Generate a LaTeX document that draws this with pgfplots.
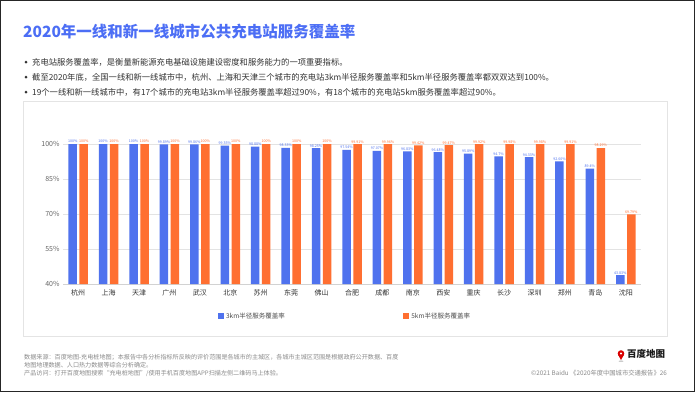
\documentclass[border=0pt]{standalone}
\usepackage{fontspec}
\setmainfont{Noto Sans CJK SC}
\usepackage{pgfplots}
\usepackage{pgfplotstable}
\pgfplotsset{compat=1.18}
\definecolor{cblue}{HTML}{4F72EE}
\definecolor{corange}{HTML}{FF6F31}
\definecolor{titleblue}{HTML}{4C6EF5}
\definecolor{txt}{HTML}{333333}
\definecolor{foot}{HTML}{8A8A8A}
\definecolor{panel}{HTML}{E4E4E4}
\pgfplotstableread{
x y3 l3 y5 l5
0 100 100 100 100
1 100 100 100 100
2 100 100 100 100
3 99.89 99.89 100 100
4 99.86 99.86 100 100
5 99.35 99.35 100 100
6 98.88 98.88 100 100
7 98.33 98.33 100 100
8 98.25 98.25 100 100
9 97.54 97.54 99.91 99.91
10 97.07 97.07 99.96 99.96
11 96.83 96.83 99.42 99.42
12 96.48 96.48 99.47 99.47
13 95.89 95.89 99.92 99.92
14 94.7 94.7 99.98 99.98
15 94.33 94.33 99.98 99.98
16 92.60 92.60 99.91 99.91
17 89.4 89.4 98.29 98.29
18 43.83 43.83 69.79 69.79
}\datatable
\begin{document}
\begin{tikzpicture}[x=1pt,y=1pt]
\useasboundingbox (0,0) rectangle (695,392);
\fill[white] (0,0) rectangle (695,392);
\draw[black!85, line width=1pt] (0.5,0.5) rectangle (694.5,391.5);
% title
\node[anchor=west, inner sep=0, text=titleblue, font=\fontsize{15.5}{18}\selectfont\bfseries] at (23,360) {2020年一线和新一线城市公共充电站服务覆盖率};
% bullets
\foreach \yy in {330,315,300} {\fill[txt] (26,\yy) circle (1.5);}
\node[anchor=west, inner sep=0, text=txt, font=\fontsize{8.3}{10}\selectfont] at (32,330) {充电站服务覆盖率，是衡量新能源充电基础设施建设密度和服务能力的一项重要指标。};
\node[anchor=west, inner sep=0, text=txt, font=\fontsize{8.3}{10}\selectfont] at (32,315) {截至2020年底，全国一线和新一线城市中，杭州、上海和天津三个城市的充电站3km半径服务覆盖率和5km半径服务覆盖率都双双达到100\%。};
\node[anchor=west, inner sep=0, text=txt, font=\fontsize{8.3}{10}\selectfont] at (32,300) {19个一线和新一线城市中，有17个城市的充电站3km半径服务覆盖率超过90\%，有18个城市的充电站5km服务覆盖率超过90\%。};
% panel
\draw[panel, line width=0.8pt] (23,56) rectangle (667,291);
\begin{axis}[
  at={(63pt,108pt)}, anchor=south west,
  scale only axis, width=578pt, height=140pt,
  xmin=-0.5, xmax=18.5, ymin=40, ymax=100,
  clip=false,
  ybar=2.5pt, bar width=8.5pt,
  axis x line*=bottom, axis y line*=left,
  x axis line style={draw=gray!35, line width=0.8pt},
  y axis line style={draw=none},
  major tick length=0pt,
  xtick={0,...,18},
  xticklabels={杭州,上海,天津,广州,武汉,北京,苏州,东莞,佛山,合肥,成都,南京,西安,重庆,长沙,深圳,郑州,青岛,沈阳},
  xticklabel style={font=\fontsize{7}{8}\selectfont, text=txt, yshift=-2pt},
  ytick={40,55,70,85,100},
  yticklabels={40\%,55\%,70\%,85\%,100\%},
  yticklabel style={font=\fontsize{7}{8}\selectfont, text=black!60},
  ymajorgrids, grid style={draw=gray!22, line width=0.8pt},
  legend columns=2,
  legend style={at={(0.262,-0.229)}, anchor=west, draw=none, fill=none,
    font=\fontsize{6.5}{8}\selectfont, text=black!70,
    /tikz/every even column/.append style={column sep=116pt}},
  legend image code/.code={\fill[#1,draw=none] (0pt,-3pt) rectangle (6.5pt,3.5pt);},
  point meta=explicit symbolic,
  nodes near coords={\pgfplotspointmeta\%},
]
\addplot[fill=cblue, draw=none, every node near coord/.append style={text=cblue, font=\fontsize{3.6}{4}\selectfont, inner sep=0.8pt}] table[x=x, y=y3, meta=l3] {\datatable};
\addplot[fill=corange, draw=none, every node near coord/.append style={text=corange, font=\fontsize{3.6}{4}\selectfont, inner sep=0.8pt}] table[x=x, y=y5, meta=l5] {\datatable};
\legend{3km半径服务覆盖率, 5km半径服务覆盖率}
\end{axis}
% footer
\node[anchor=west, inner sep=0, text=foot, font=\fontsize{6.1}{7}\selectfont] at (24,35) {数据来源：百度地图-充电桩地图；本报告中各分析指标所反映的评价范围是各城市的主城区，各城市主城区范围是根据政府公开数据、百度};
\node[anchor=west, inner sep=0, text=foot, font=\fontsize{6.1}{7}\selectfont] at (24,27) {地图地理数据、人口热力数据等综合分析确定。};
\node[anchor=west, inner sep=0, text=foot, font=\fontsize{6.1}{7}\selectfont] at (24,19) {产品访问：打开百度地图搜索“充电桩地图”/使用手机百度地图APP扫描左侧二维码马上体验。};
\node[anchor=east, inner sep=0, text=foot, font=\fontsize{6.3}{7}\selectfont] at (667,19) {©2021 Baidu 《2020年度中国城市交通报告》26};
% logo
\fill[red!85!black] (621,38.5) circle (3.3);
\fill[red!85!black] (618.2,37) -- (621,32) -- (623.8,37) -- cycle;
\fill[white] (621,38.5) circle (1.2);
\fill[gray!40] (621,30.8) ellipse (2.5 and 0.8);
\node[anchor=west, inner sep=0, text=black!90, font=\fontsize{9.5}{11}\selectfont\bfseries] at (627,38) {百度地图};
\end{tikzpicture}
\end{document}
